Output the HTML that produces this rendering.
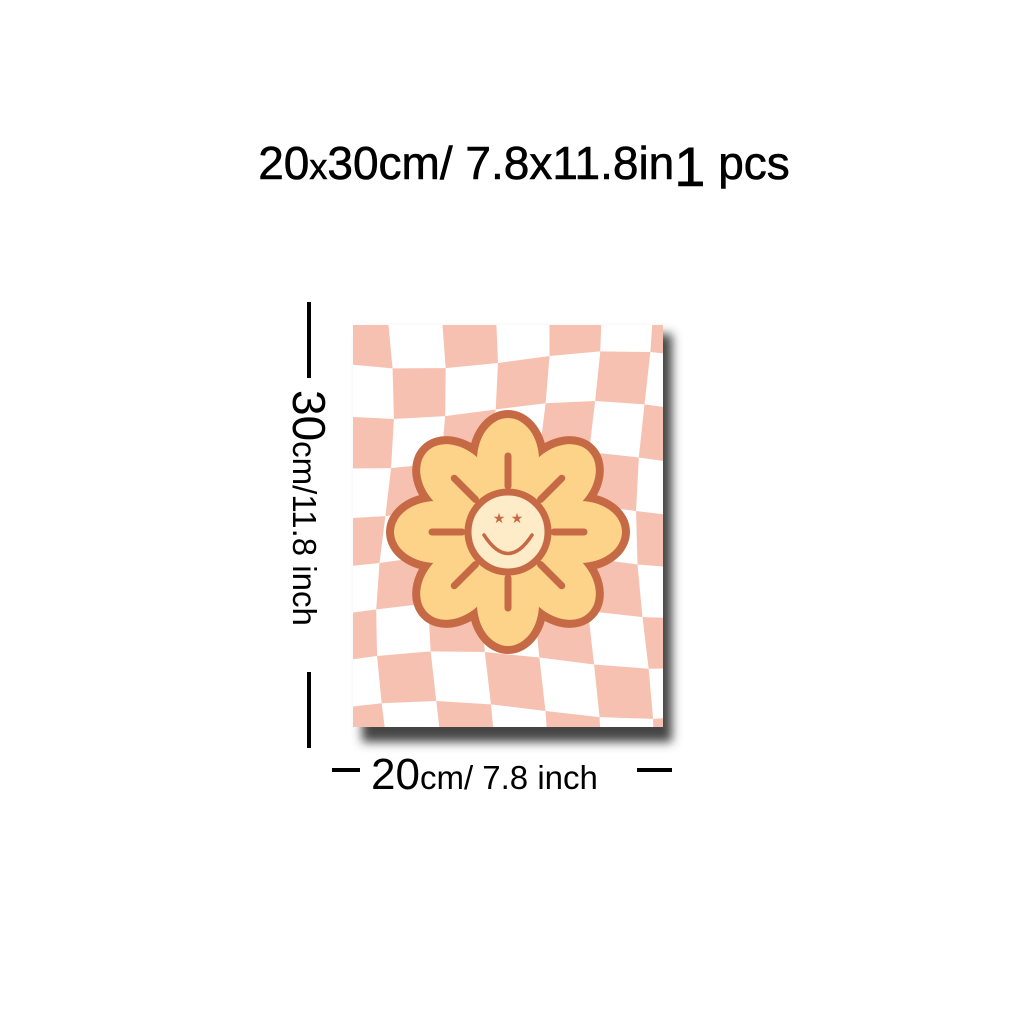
<!DOCTYPE html>
<html><head><meta charset="utf-8"><style>
html,body{margin:0;padding:0;background:#fff;width:1024px;height:1024px;overflow:hidden}
svg{display:block}
</style></head><body>
<svg width="1024" height="1024" viewBox="0 0 1024 1024">
<defs>
<filter id="sh" x="-10%" y="-10%" width="130%" height="130%"><feGaussianBlur stdDeviation="5"/></filter>
<clipPath id="pc"><rect x="353" y="325" width="310" height="402"/></clipPath>
</defs>
<text x="524" y="179" text-anchor="middle" font-family="Liberation Sans, sans-serif" font-size="46" fill="#000" stroke="#000" stroke-width="0.6">20<tspan font-size="36">x</tspan>30cm/ 7.8x11.8in<tspan font-size="56" dy="7">1</tspan><tspan dy="-7"> pcs</tspan></text>
<rect x="362" y="334" width="310" height="408" fill="#444" filter="url(#sh)"/>
<rect x="353" y="325" width="310" height="402" fill="#fff"/>
<g id="checks" clip-path="url(#pc)"></g>
<g id="flower"></g>
<g>
<rect x="307" y="302" width="4" height="76" fill="#000"/>
<rect x="307" y="672" width="4" height="76" fill="#000"/>
<text transform="translate(293,390) rotate(90)" font-family="Liberation Sans, sans-serif" font-size="33" fill="#000"><tspan font-size="46">30</tspan>cm/11.8 inch</text>
</g>
<g>
<rect x="332" y="768" width="28" height="4" fill="#000"/>
<rect x="637" y="768" width="35" height="4" fill="#000"/>
<text x="371" y="789" font-family="Liberation Sans, sans-serif" font-size="33" fill="#000"><tspan font-size="44">20</tspan>cm/ 7.8 inch</text>
</g>
</svg>
<script>
const ns='http://www.w3.org/2000/svg';
const g=document.getElementById('checks');
const cw=52,ch=50;
function V(i,j){return [353+i*cw-20+9*Math.sin(j*0.7+i*0.3), 325+j*ch-15+9*Math.sin(i*0.8+j*0.4)];}
for(let j=0;j<11;j++)for(let i=0;i<8;i++){
 if((i+j)%2)continue;
 const a=V(i,j),b=V(i+1,j),c=V(i+1,j+1),d=V(i,j+1);
 const p=document.createElementNS(ns,'path');
 p.setAttribute('d',`M${a} L${b} L${c} L${d} Z`);
 p.setAttribute('fill','#f7c1b1');
 
 
 g.appendChild(p);
}
const f=document.getElementById('flower');
const cx=508,cy=532,brown='#c66a45';
function petal(a,fill,stroke,sw){
 const e=document.createElementNS(ns,'ellipse');
 e.setAttribute('cx',cx);e.setAttribute('cy',cy-72);e.setAttribute('rx',31);e.setAttribute('ry',42);
 e.setAttribute('transform',`rotate(${a} ${cx} ${cy})`);
 e.setAttribute('fill',fill);e.setAttribute('stroke',stroke);e.setAttribute('stroke-width',sw);
 
 
 f.appendChild(e);
}
for(let i=0;i<8;i++)petal(i*45,brown,brown,16);
for(let i=0;i<8;i++)petal(i*45,'#fdd38a','none',0);
for(let i=0;i<8;i++){
 const a=i*45*Math.PI/180,l=document.createElementNS(ns,'line');
 l.setAttribute('x1',cx+Math.sin(a)*46);l.setAttribute('y1',cy-Math.cos(a)*46);
 l.setAttribute('x2',cx+Math.sin(a)*76);l.setAttribute('y2',cy-Math.cos(a)*76);
 l.setAttribute('stroke',brown);l.setAttribute('stroke-width',7);l.setAttribute('stroke-linecap','round');
 
 
 f.appendChild(l);
}
const face=document.createElementNS(ns,'circle');
face.setAttribute('cx',cx);face.setAttribute('cy',cy);face.setAttribute('r',40);
face.setAttribute('fill','#feebc8');face.setAttribute('stroke',brown);face.setAttribute('stroke-width',7);


f.appendChild(face);
const sm=document.createElementNS(ns,'path');
sm.setAttribute('d',`M${cx-24} ${cy+3} Q${cx} ${cy+40} ${cx+24} ${cy+3}`);
sm.setAttribute('fill','none');sm.setAttribute('stroke',brown);sm.setAttribute('stroke-width',3.5);sm.setAttribute('stroke-linecap','round');


f.appendChild(sm);
[-9,9].forEach(dx=>{
 const t=document.createElementNS(ns,'text');
 t.setAttribute('x',cx+dx);t.setAttribute('y',cy-9);t.setAttribute('text-anchor','middle');
 t.setAttribute('font-size','14');t.setAttribute('fill',brown);t.setAttribute('font-family','DejaVu Sans, sans-serif');
 t.textContent='★';
 
 
 f.appendChild(t);
});
</script>
</body></html>
